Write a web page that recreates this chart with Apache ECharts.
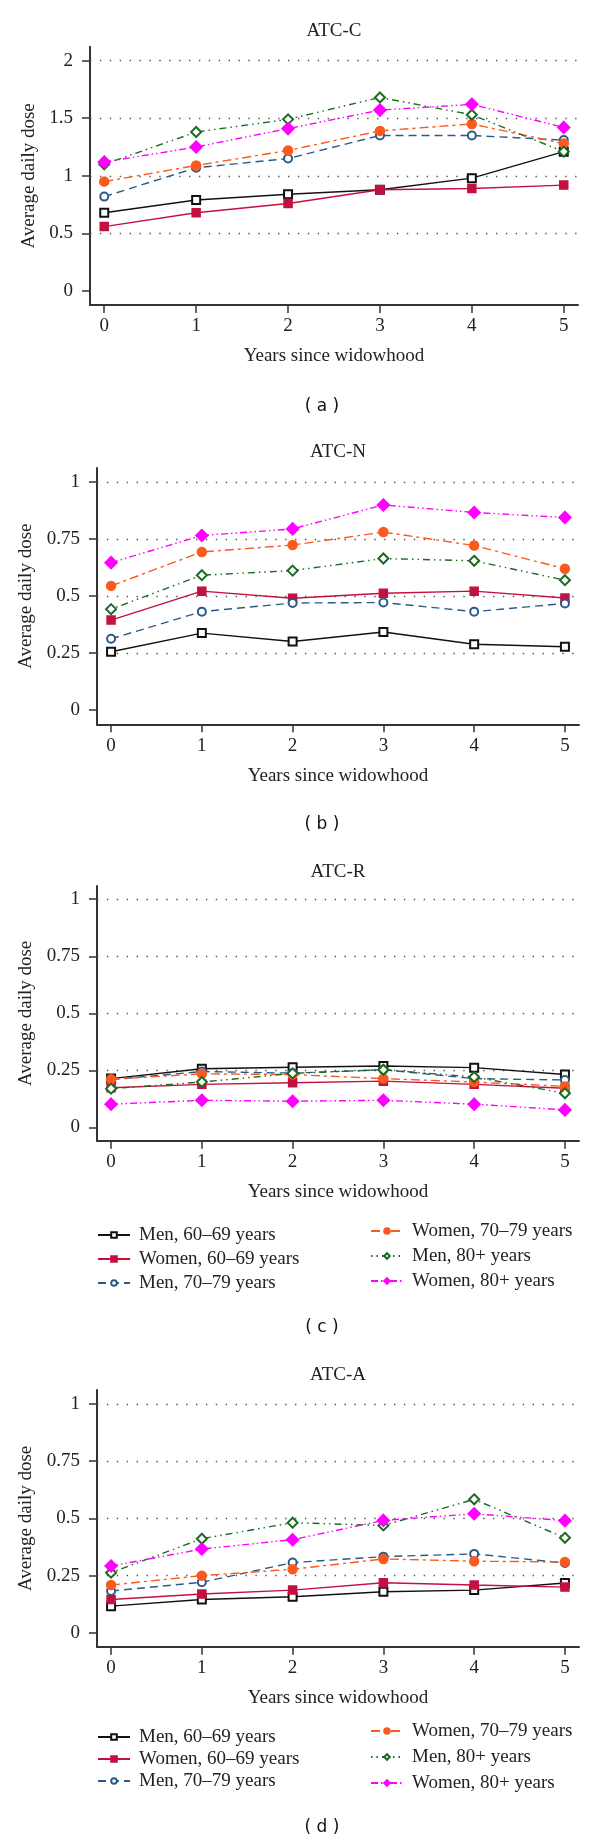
<!DOCTYPE html>
<html><head><meta charset="utf-8">
<script src="https://cdn.jsdelivr.net/npm/echarts@6/dist/echarts.min.js"></script>
<style>html,body{margin:0;padding:0;background:#fff}#c{width:600px;height:1844px}</style>
</head><body><div id="c"></div>
<script>
// ---------- data ----------
const years = [0, 1, 2, 3, 4, 5];
const groupNames = ['Men, 60–69 years', 'Women, 60–69 years', 'Men, 70–79 years',
                    'Women, 70–79 years', 'Men, 80+ years', 'Women, 80+ years'];
const panelTitles = ['ATC-C', 'ATC-N', 'ATC-R', 'ATC-A'];
const panelLetters = ['( a )', '( b )', '( c )', '( d )'];
const xTicks = [0, 1, 2, 3, 4, 5];
const yTicksC = [0, 0.5, 1, 1.5, 2];
const yTicksNRA = [0, 0.25, 0.5, 0.75, 1];

// ATC-C
const atcC_men6069   = [0.68, 0.79, 0.84, 0.88, 0.98, 1.21];
const atcC_women6069 = [0.56, 0.68, 0.76, 0.88, 0.89, 0.92];
const atcC_men7079   = [0.82, 1.07, 1.15, 1.35, 1.35, 1.31];
const atcC_women7079 = [0.95, 1.09, 1.22, 1.39, 1.45, 1.28];
const atcC_men80     = [1.10, 1.38, 1.49, 1.68, 1.53, 1.21];
const atcC_women80   = [1.12, 1.25, 1.41, 1.57, 1.62, 1.42];
// ATC-N
const atcN_men6069   = [0.256, 0.338, 0.301, 0.343, 0.289, 0.278];
const atcN_women6069 = [0.395, 0.522, 0.491, 0.513, 0.522, 0.492];
const atcN_men7079   = [0.313, 0.432, 0.470, 0.472, 0.432, 0.468];
const atcN_women7079 = [0.545, 0.694, 0.724, 0.781, 0.722, 0.620];
const atcN_men80     = [0.443, 0.592, 0.612, 0.665, 0.655, 0.570];
const atcN_women80   = [0.647, 0.766, 0.795, 0.900, 0.867, 0.845];
// ATC-R
const atcR_men6069   = [0.214, 0.257, 0.264, 0.269, 0.262, 0.232];
const atcR_women6069 = [0.174, 0.189, 0.196, 0.203, 0.189, 0.172];
const atcR_men7079   = [0.210, 0.245, 0.238, 0.253, 0.214, 0.208];
const atcR_women7079 = [0.211, 0.235, 0.232, 0.214, 0.199, 0.180];
const atcR_men80     = [0.170, 0.199, 0.237, 0.253, 0.221, 0.150];
const atcR_women80   = [0.102, 0.119, 0.115, 0.119, 0.102, 0.077];
// ATC-A
const atcA_men6069   = [0.117, 0.146, 0.158, 0.180, 0.187, 0.218];
const atcA_women6069 = [0.146, 0.170, 0.187, 0.219, 0.209, 0.200];
const atcA_men7079   = [0.183, 0.221, 0.307, 0.333, 0.345, 0.305];
const atcA_women7079 = [0.209, 0.250, 0.278, 0.323, 0.313, 0.310];
const atcA_men80     = [0.263, 0.411, 0.481, 0.469, 0.583, 0.415];
const atcA_women80   = [0.292, 0.366, 0.407, 0.491, 0.520, 0.490];

const panelData = [
  [atcC_men6069, atcC_women6069, atcC_men7079, atcC_women7079, atcC_men80, atcC_women80],
  [atcN_men6069, atcN_women6069, atcN_men7079, atcN_women7079, atcN_men80, atcN_women80],
  [atcR_men6069, atcR_women6069, atcR_men7079, atcR_women7079, atcR_men80, atcR_women80],
  [atcA_men6069, atcA_women6069, atcA_men7079, atcA_women7079, atcA_men80, atcA_women80]
];
const panelYTicks = [yTicksC, yTicksNRA, yTicksNRA, yTicksNRA];

// ---------- layout / style ----------
const SERIF = '"Liberation Serif", "DejaVu Serif", serif';
const TXT = '#222';
const layout = [
  {left: 90, top: 46.7, height: 258.3, width: 488, ymin: -0.12, ymax: 2.12, nameGap: 50, titleY: 31, letterY: 407},
  {left: 97, top: 468, height: 256.3, width: 482, ymin: -0.062, ymax: 1.062, nameGap: 56, titleY: 452, letterY: 825},
  {left: 97, top: 886, height: 254.7, width: 482, ymin: -0.058, ymax: 1.058, nameGap: 56, titleY: 872, letterY: 1328},
  {left: 97, top: 1390, height: 256.7, width: 482, ymin: -0.06, ymax: 1.06, nameGap: 56, titleY: 1375, letterY: 1828}
];
const styles = [
  {color: '#111111', type: 'solid', symbol: 'emptyRect', size: 8},
  {color: '#c41040', type: 'solid', symbol: 'rect', size: 8},
  {color: '#2c5a85', type: [8, 5], symbol: 'emptyCircle', size: 8},
  {color: '#fa5a1e', type: [9, 4, 3, 4], symbol: 'circle', size: 9},
  {color: '#1d6b22', type: [1.5, 4, 1.5, 4, 7, 4], symbol: 'emptyDiamond', size: 10},
  {color: '#ff00ff', type: [7, 3, 1.5, 3, 1.5, 3], symbol: 'diamond', size: 12}
];

const grids = [], xAxes = [], yAxes = [], series = [], graphics = [];
layout.forEach((L, i) => {
  grids.push({left: L.left, top: L.top, width: L.width, height: L.height});
  const xmin = -0.155, xmax = 5.155;
  xAxes.push({
    type: 'value', gridIndex: i, min: xmin, max: xmax,
    name: 'Years since widowhood', nameLocation: 'middle', nameGap: 42,
    nameTextStyle: {fontFamily: SERIF, fontSize: 19, color: TXT},
    axisLine: {show: true, onZero: false, lineStyle: {color: '#333', width: 2}},
    axisTick: {show: true, length: 8, customValues: xTicks, lineStyle: {color: '#333', width: 1.5}},
    axisLabel: {customValues: xTicks, margin: 12, fontFamily: SERIF, fontSize: 19, color: TXT},
    splitLine: {show: false}
  });
  const yt = panelYTicks[i];
  yAxes.push({
    type: 'value', gridIndex: i, min: L.ymin, max: L.ymax,
    name: 'Average daily dose', nameLocation: 'middle', nameGap: L.nameGap,
    nameTextStyle: {fontFamily: SERIF, fontSize: 19, color: TXT},
    axisLine: {show: true, onZero: false, lineStyle: {color: '#333', width: 2}},
    axisTick: {show: true, length: 8, customValues: yt, lineStyle: {color: '#333', width: 1.5}},
    axisLabel: {customValues: yt, margin: 17, fontFamily: SERIF, fontSize: 19, color: TXT},
    splitLine: {show: false}
  });
  panelData[i].forEach((vals, g) => {
    const s = styles[g];
    const ser = {
      type: 'line', name: groupNames[g], xAxisIndex: i, yAxisIndex: i,
      data: years.map((x, k) => [x, vals[k]]),
      symbol: s.symbol, symbolSize: s.size, showSymbol: true,
      lineStyle: {color: s.color, width: 1.4, type: s.type},
      itemStyle: {color: s.color, borderColor: s.color, borderWidth: 1.5},
      z: 3 + g
    };
    if (g === 0) {
      ser.markLine = {
        silent: true, symbol: ['none', 'none'], z: 1, animation: false,
        label: {show: false},
        lineStyle: {color: '#555', width: 1.4, type: [1.4, 8.5]},
        emphasis: {disabled: true},
        data: yt.filter(v => v > 0).map(v => ({yAxis: v}))
      };
    }
    series.push(ser);
  });
  graphics.push({type: 'text', x: L.left + L.width / 2, y: L.titleY,
    style: {text: panelTitles[i], fontFamily: SERIF, fontSize: 19, fill: TXT, align: 'center', verticalAlign: 'middle'}});
  graphics.push({type: 'text', x: 322, y: L.letterY,
    style: {text: panelLetters[i], fontFamily: '"DejaVu Sans", sans-serif', fontSize: 17, fill: '#111', align: 'center', verticalAlign: 'middle'}});
});

function mkLegend(left, top, gap, names) {
  return {
    orient: 'vertical', left: left, top: top, padding: 0, itemGap: gap,
    itemWidth: 32, itemHeight: 7, selectedMode: false,
    data: names,
    textStyle: {fontFamily: SERIF, fontSize: 19, color: TXT, lineHeight: 20, padding: [0, 0, 0, 4]}
  };
}
const legends = [
  mkLegend(97, 1225, 4, groupNames.slice(0, 3)),
  mkLegend(370, 1221, 5, groupNames.slice(3)),
  mkLegend(97, 1727, 2, groupNames.slice(0, 3)),
  mkLegend(370, 1721, 6, groupNames.slice(3))
];

const chart = echarts.init(document.getElementById('c'), null, {renderer: 'canvas'});
chart.setOption({
  animation: false,
  backgroundColor: '#fff',
  grid: grids, xAxis: xAxes, yAxis: yAxes, series: series,
  legend: legends, graphic: graphics
});
</script></body></html>
